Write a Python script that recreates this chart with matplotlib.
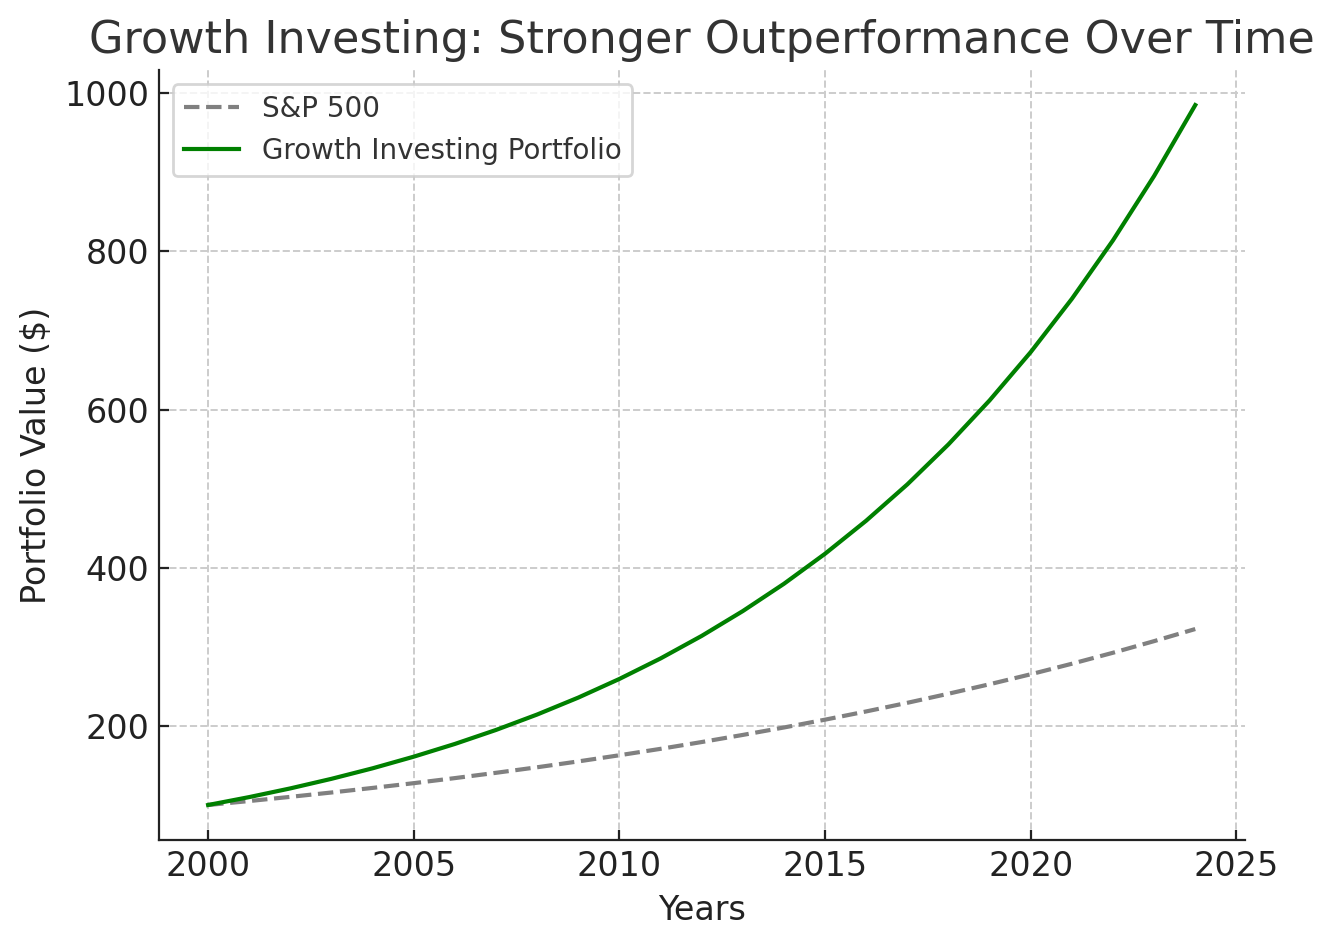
import numpy as np
import matplotlib.pyplot as plt

# Years and portfolio values
years = list(range(2000, 2025))
sp500 = [100.0, 105.0, 110.3, 115.8, 121.6, 127.6, 134.0, 140.7, 147.7, 155.1,
         162.9, 171.0, 179.6, 188.6, 198.0, 207.9, 218.3, 229.2, 240.7, 252.7,
         265.3, 278.6, 292.5, 307.2, 322.5]
growth = [100.0, 110.0, 121.0, 133.1, 146.4, 161.1, 177.2, 194.9, 214.4, 235.8,
          259.4, 285.3, 313.8, 345.2, 379.7, 417.7, 459.5, 505.4, 556.0, 611.6,
          672.7, 740.0, 814.0, 895.4, 985.0]

fig = plt.figure(figsize=(6.67, 4.735), dpi=200)
ax = fig.add_axes([0.119, 0.113, 0.814, 0.813])

ax.plot(years, sp500, color="gray", linestyle="--", linewidth=1.5, label="S&P 500")
ax.plot(years, growth, color="green", linewidth=1.5, label="Growth Investing Portfolio")

ax.set_title("Growth Investing: Stronger Outperformance Over Time", fontsize=16, color="#333333")
ax.set_xlabel("Years", fontsize=12, color="#222222")
ax.set_ylabel("Portfolio Value ($)", fontsize=12, color="#222222")
ax.tick_params(labelsize=12, direction="in", colors="#222222")

ax.grid(True, linestyle="--", color="#cccccc", linewidth=0.7)
ax.spines["top"].set_visible(False)
ax.spines["right"].set_visible(False)
for s in ["left", "bottom"]:
    ax.spines[s].set_color("#222222")
ax.set_xticks([2000, 2005, 2010, 2015, 2020, 2025])

leg = ax.legend(loc="upper left", fontsize=10)
for t in leg.get_texts():
    t.set_color("#333333")

fig.savefig("out.png", dpi=200)
